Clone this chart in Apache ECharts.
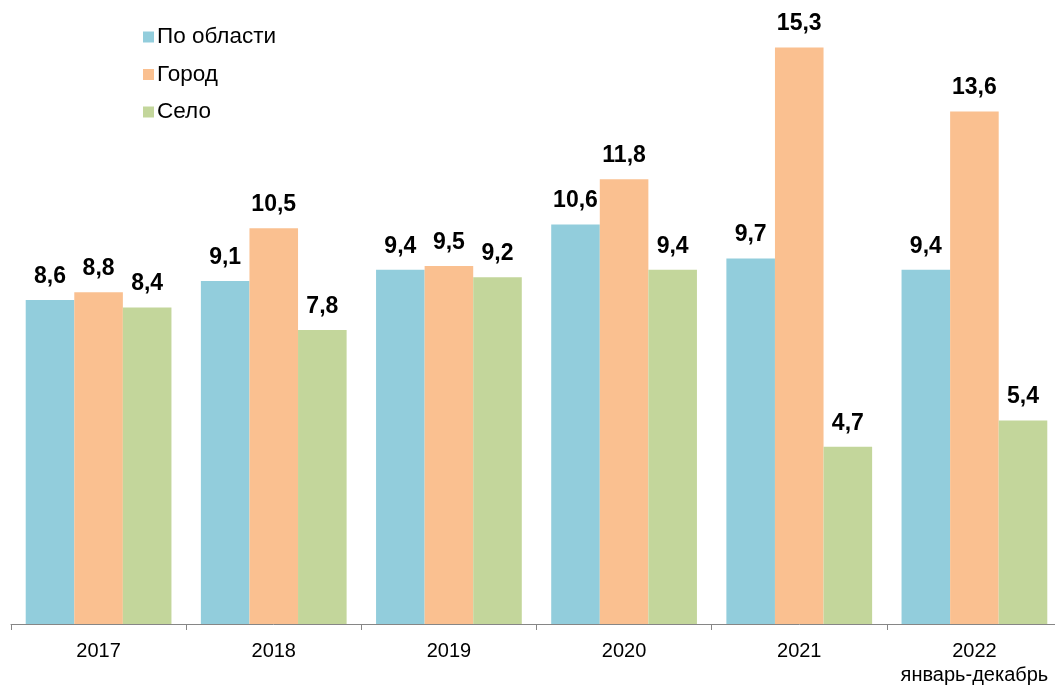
<!DOCTYPE html>
<html><head><meta charset="utf-8">
<script src="https://cdn.jsdelivr.net/npm/echarts@6/dist/echarts.min.js"></script>
<style>html,body{margin:0;padding:0;background:#fff;overflow:hidden;width:1055px;height:687px}#wrap{width:1055px;height:687px;overflow:hidden;position:relative}#c{position:absolute;left:0;top:0;width:1062px;height:687px}</style>
</head><body><div id="wrap"><div id="c"></div></div>
<script>
const categories = ['2017','2018','2019','2020','2021','2022\nянварь-декабрь'];
const seriesNames = ['По области','Город','Село'];
const oblast = [8.6, 9.1, 9.4, 10.6, 9.7, 9.4];
const gorod = [8.8, 10.5, 9.5, 11.8, 15.3, 13.6];
const selo = [8.4, 7.8, 9.2, 9.4, 4.7, 5.4];
const colors = ['#92CDDC','#FAC090','#C3D69B'];

const chart = echarts.init(document.getElementById('c'), null, {renderer:'canvas'});
const label = {
  show:true, position:'top', distance:12,
  fontFamily:'Liberation Sans, Arial', fontSize:23, fontWeight:'bold', color:'#000',
  formatter: p => String(p.value).replace('.', ',')
};
function mk(name, data, color){
  return {name, type:'bar', data, itemStyle:{color}, label, barGap:'0%', barCategoryGap:'16.8%'};
}
chart.setOption({
  animation:false,
  color: colors,
  legend:{
    orient:'vertical', left:138, top:20, itemGap:13.5,
    itemWidth:11, itemHeight:11, icon:'rect',
    textStyle:{fontFamily:'Liberation Sans, Arial', fontSize:22.5, lineHeight:24, color:'#000', padding:[0,0,0,-2]},
    data: seriesNames
  },
  grid:{left:11, top:21, right:0, bottom:60, containLabel:false},
  xAxis:{
    type:'category', data:categories,
    axisLine:{lineStyle:{color:'#868686', width:1}},
    axisTick:{show:true, length:6, lineStyle:{color:'#868686'}},
    axisLabel:{interval:0, fontFamily:'Liberation Sans, Arial', fontSize:20, color:'#000', margin:15, lineHeight:24}
  },
  yAxis:{type:'value', min:0, max:16, show:false, splitLine:{show:false}},
  series:[mk(seriesNames[0], oblast, colors[0]), mk(seriesNames[1], gorod, colors[1]), mk(seriesNames[2], selo, colors[2])]
});
</script></body></html>
